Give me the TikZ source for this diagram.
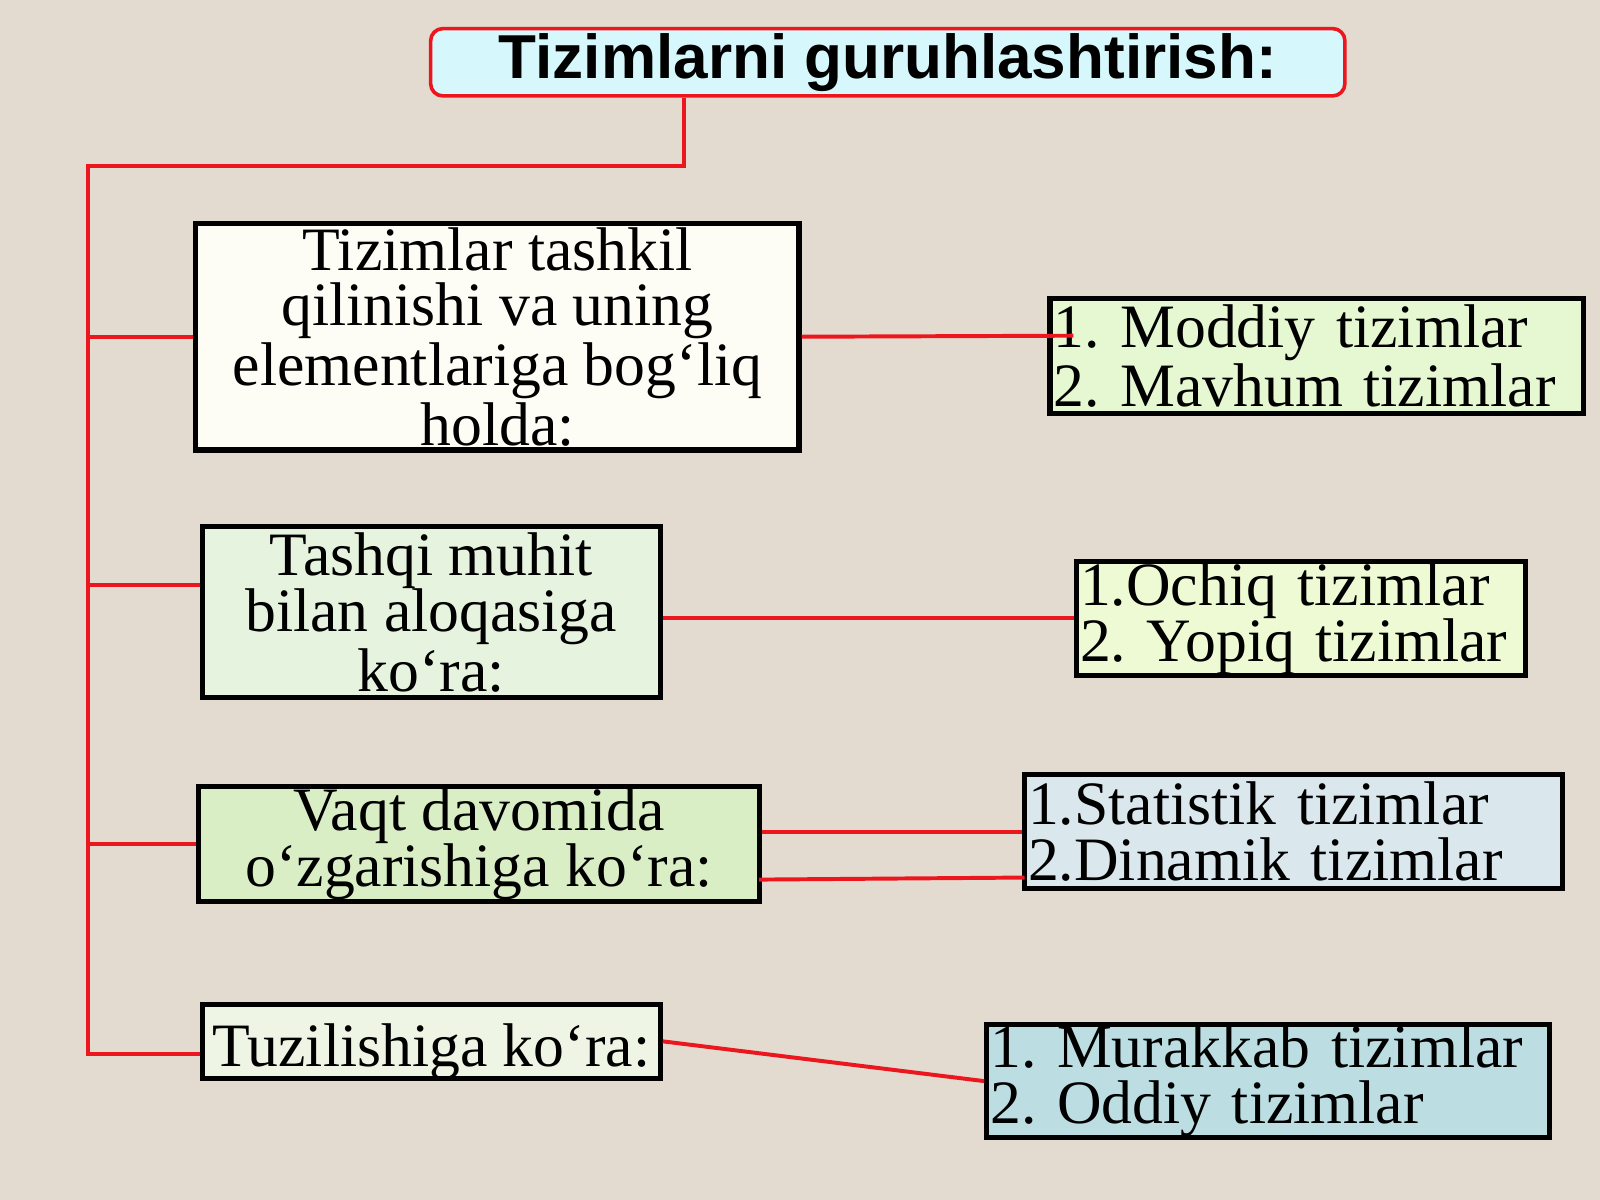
\documentclass[tikz,border=0pt]{standalone}
\usepackage{fontspec}
\setmainfont{Liberation Serif}
\newfontfamily\titlefont{Liberation Sans}
\frenchspacing
\definecolor{paper}{RGB}{227,219,207}
\definecolor{titlefill}{RGB}{214,248,252}
\definecolor{boxwhite}{RGB}{253,253,245}
\definecolor{boxmint}{RGB}{230,243,222}
\definecolor{boxlime}{RGB}{218,238,198}
\definecolor{boxpale}{RGB}{238,245,228}
\definecolor{listlime}{RGB}{230,248,210}
\definecolor{listyellow}{RGB}{238,250,212}
\definecolor{listsky}{RGB}{218,232,238}
\definecolor{listteal}{RGB}{188,222,226}
\definecolor{linkred}{RGB}{236,22,30}
\tikzset{
  box/.style={draw=black,line width=1.4pt,inner sep=0pt,align=center,
    font=\fontsize{17.2}{15.6}\selectfont},
  listbox/.style={box,align=left,inner xsep=1pt},
  link/.style={draw=linkred,line width=1.1pt},
}
\begin{document}
\begin{tikzpicture}
    \fill[paper] (0,0) rectangle (15.68,-11.76);
    \useasboundingbox (0,0) rectangle (15.68,-11.76);

    \node[draw=linkred,line width=1pt,fill=titlefill,rounded corners=0.12cm,
      minimum width=8.96cm,minimum height=0.66cm,inner sep=0pt,
      font=\titlefont\bfseries\fontsize{17.3}{20}\selectfont] (title) at (8.70,-0.61)
      {Tizimlarni guruhlashtirish:};

    \node[box,fill=boxwhite,minimum width=5.91cm,minimum height=2.22cm] (b1) at (4.875,-3.30)
      {Tizimlar tashkil\\ qilinishi va uning\\ elementlariga bog‘liq\\ holda:};
    \node[box,fill=boxmint,minimum width=4.49cm,minimum height=1.68cm] (b2) at (4.225,-6.00)
      {Tashqi muhit\\ bilan aloqasiga\\ ko‘ra:};
    \node[box,fill=boxlime,minimum width=5.49cm,minimum height=1.12cm] (b3) at (4.695,-8.27)
      {Vaqt davomida\\ o‘zgarishiga ko‘ra:};
    \node[box,fill=boxpale,minimum width=4.49cm,minimum height=0.73cm,
      text height=0.6cm,text depth=0.1cm] (b4) at (4.225,-10.205)
      {Tuzilishiga ko‘ra:};

    \node[listbox,fill=listlime,minimum width=5.23cm,text width=5.16cm,minimum height=1.12cm] (r1) at (12.905,-3.49)
      {1. Moddiy tizimlar\\ 2. Mavhum tizimlar};
    \node[listbox,fill=listyellow,minimum width=4.40cm,text width=4.33cm,minimum height=1.12cm] (r2) at (12.75,-6.06)
      {1.Ochiq tizimlar\\ 2. Yopiq tizimlar};
    \node[listbox,fill=listsky,minimum width=5.27cm,text width=5.20cm,minimum height=1.12cm] (r3) at (12.675,-8.15)
      {1.Statistik tizimlar\\ 2.Dinamik tizimlar};
    \node[listbox,fill=listteal,minimum width=5.51cm,text width=5.44cm,minimum height=1.11cm] (r4) at (12.425,-10.595)
      {1. Murakkab tizimlar\\ 2. Oddiy tizimlar};

    % trunk
    \coordinate (top) at (6.70,-1.63);
    \coordinate (corner) at (0.86,-1.63);
    \coordinate (foot) at (0.86,-10.33);
    \coordinate (J2) at (0.86,-5.73);
    \coordinate (E1) at (10.52,-3.29);
    \coordinate (S2) at (7.44,-8.62);
    \coordinate (T2) at (10.04,-8.60);

    \draw[link] (top |- title.south) -- (top) -- (corner) -- (foot) -- (foot -| b4.west);
    \draw[link] (corner |- b1.west) -- (b1.west);
    \draw[link] (J2) -- (J2 -| b2.west);
    \draw[link] (corner |- b3.west) -- (b3.west);

    \draw[link] (b1.east) -- (E1);
    \draw[link] (b2.east |- r2.west) -- (r2.west);
    \draw[link] (b3.east |- r3.west) -- (r3.west);
    \draw[link] (S2) -- (T2);
    \draw[link] (b4.east) -- (r4.west);
\end{tikzpicture}
\end{document}
